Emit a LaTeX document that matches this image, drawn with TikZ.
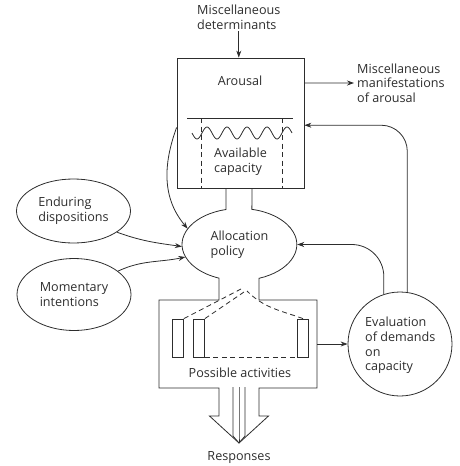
\documentclass[tikz,border=0pt]{standalone}
\usepackage{fontspec}
\setmainfont{Open Sans}
\usetikzlibrary{positioning,arrows.meta,calc,shapes.geometric}
\definecolor{inkgray}{RGB}{45,45,45}
\tikzset{
  lbl/.style={align=left, inner sep=0pt, font=\fontsize{12.6}{14.6}\selectfont, text=inkgray},
  oval/.style={draw=inkgray, line width=0.8pt, ellipse, inner sep=0pt, align=left, minimum width=114pt, font=\fontsize{12.6}{14.6}\selectfont, text=inkgray},
  line/.style={draw=inkgray, line width=0.8pt},
  dashline/.style={draw=inkgray, line width=0.8pt, dash pattern=on 5pt off 3.5pt},
  actbar/.style={draw=inkgray, line width=0.8pt, inner sep=0pt, minimum width=11pt, minimum height=38pt},
  arrow/.style={-{Stealth[length=7pt,width=5pt]}, line width=0.8pt, inkgray}
}

\begin{document}
\begin{tikzpicture}[x=1pt,y=1pt]
    \useasboundingbox (0,0) rectangle (460,-466);
    % arousal and capacity
    \node[line, minimum width=127pt, minimum height=130pt, inner sep=0pt] (arousal) at (240.5,-123) {};
    \node[lbl] (arousaltxt) at (240,-81) {Arousal};
    \node[lbl, anchor=west] (avail) at (214,-162) {Available\\capacity};
    \draw[line] (187,-118) -- (293,-118);
    \draw[dashline] (201,-118) -- (201,-188);
    \draw[dashline] (282,-118) -- (282,-188);
    \draw[line, domain=192:292, samples=120, smooth] plot (\x, {-133-6*sin(18*(\x-192))});
    \node[lbl, anchor=west] (det) at (197,-17) {Miscellaneous\\determinants};
    \node[lbl, anchor=west] (manif) at (357,-83) {Miscellaneous\\manifestations\\of arousal};
    % allocation, activities and the response arrow as one outline
    \node[ellipse, inner sep=0pt, minimum width=115pt, minimum height=72pt, align=left, font=\fontsize{12.6}{14.6}\selectfont, text=inkgray] (alloc) at (239.5,-244.5) {Allocation\\policy};
    \node[inner sep=0pt, minimum width=158pt, minimum height=88pt] (acts) at (238,-344) {};
    \draw[line] (226,-188) -- (226,-209.5) arc[start angle=103.6, end angle=249.1, x radius=57.5, y radius=36]
      -- (219,-300) -- (159,-300) -- (159,-388) -- (219,-388) -- (219,-416) -- (209.5,-416) -- (239,-443)
      -- (268.5,-416) -- (259,-416) -- (259,-388) -- (317,-388) -- (317,-300) -- (259,-300) -- (259,-278.3)
      arc[start angle=-70, end angle=77.4, x radius=57.5, y radius=36] -- (252,-188);
    \foreach \xx in {233,239,245}
      \draw[line] (\xx,-387) -- (\xx,-436) -- (239,-443);
    \node[lbl] (posstxt) at (240,-373) {Possible activities};
    \node[lbl] (resp) at (239,-458) {Responses};
    \node[actbar] (bar1) at (178,-338) {};
    \node[actbar] (bar2) at (199,-338) {};
    \node[actbar] (bar3) at (303,-338) {};
    \coordinate (apexa) at (241,-289);
    \coordinate (apexb) at (244,-292);
    \coordinate (apexc) at (247,-291);
    \draw[dashline] (bar2.south east) -- (bar3.south west);
    \draw[dashline] (bar1.north east) -- (apexa);
    \draw[dashline] (bar2.north east) -- (apexb);
    \draw[dashline] (bar3.north) to[out=160, in=-45] (apexc);
    % outside influences
    \node[oval, minimum height=64pt] (endur) at (73.5,-211) {Enduring\\dispositions};
    \node[oval, minimum height=72pt] (moment) at (74,-294.5) {Momentary\\intentions};
    \node[line, circle, minimum size=104pt, inner sep=0pt] (eval) at (400,-344) {};
    \node[lbl, anchor=west] (evaltxt) at (365,-345.5) {Evaluation\\of demands\\on\\capacity};
    \draw[arrow] ([yshift=-2pt]det.south) -- (det.south |- arousal.north);
    \draw[arrow] (arousal.32) -- ([xshift=-3pt]manif.west);
    \draw[arrow] (arousal.184) to[out=250, in=130] (alloc.163);
    \draw[arrow] (endur.-26) to[out=-20, in=172] (alloc.182);
    \draw[arrow] (moment.28) to[out=25, in=192] (alloc.193);
    \draw[arrow] (acts.east) -- (eval.west);
    \draw[arrow, rounded corners=26pt] (eval.82) |- (arousal.-2);
    \draw[arrow, rounded corners=32pt] (eval.108) |- (alloc.east);
  \end{tikzpicture}
\end{document}
